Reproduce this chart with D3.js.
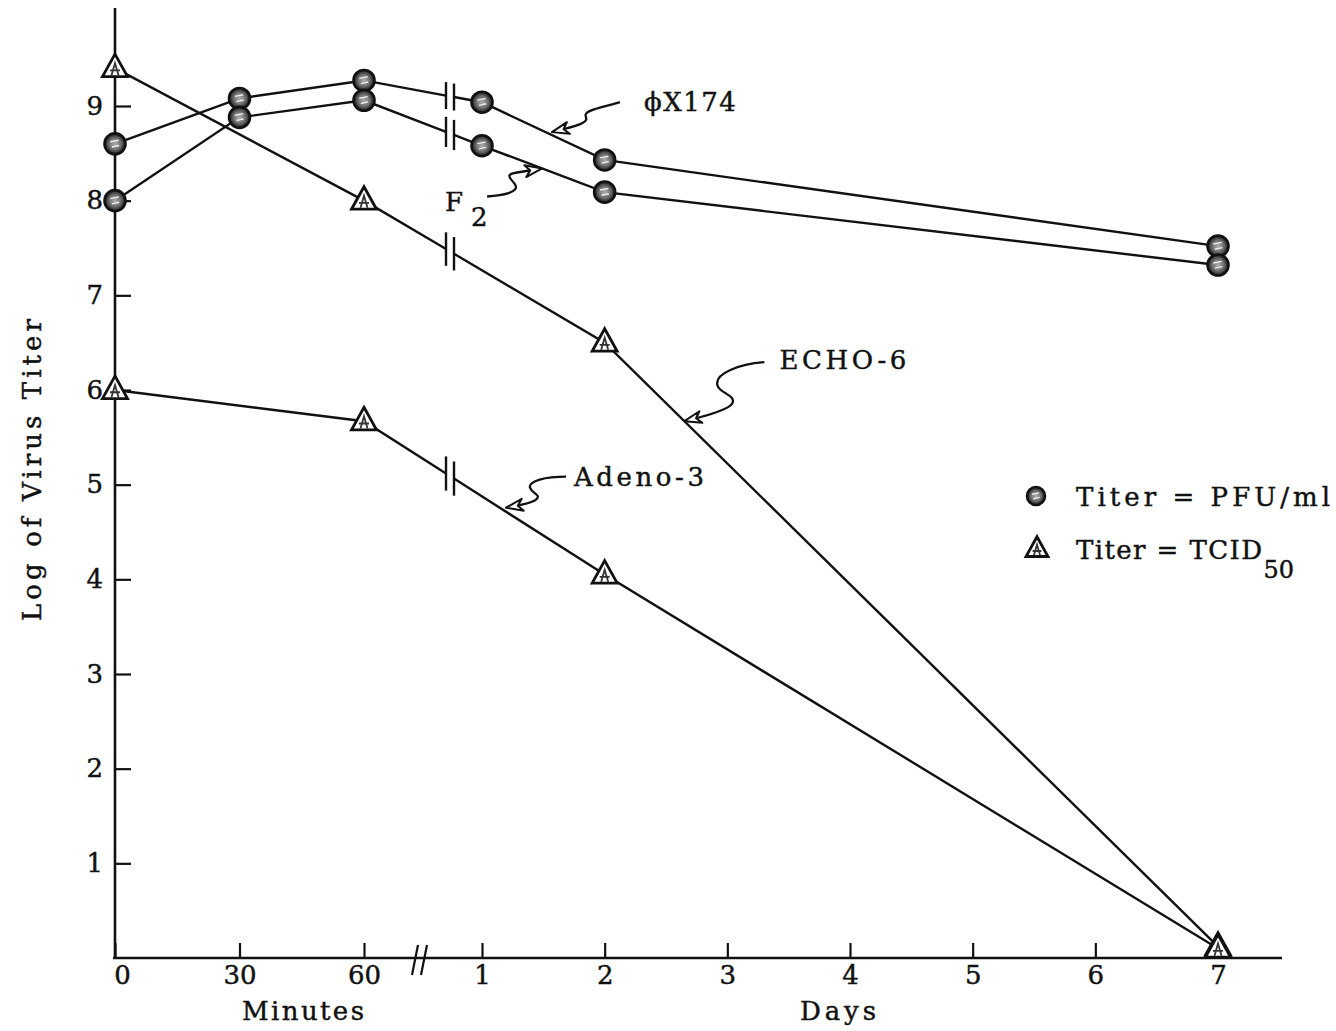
<!DOCTYPE html>
<html>
<head>
<meta charset="utf-8">
<script src="https://cdn.jsdelivr.net/npm/d3@7"></script>
<style>
  html, body { margin: 0; padding: 0; background: #fff; }
  svg { display: block; }
  text { font-family: "DejaVu Serif", serif; fill: #111; stroke: #111; stroke-width: 0.45px; }
</style>
</head>
<body>
<svg id="chart" width="1336" height="1031"></svg>
<script>
// Axis ticks: the first hour is read in minutes, the rest in days
const minuteTicks = [0, 30, 60];
const dayTicks = [1, 2, 3, 4, 5, 6, 7];
const titerTicks = [1, 2, 3, 4, 5, 6, 7, 8, 9];

// phiX174 (plaque assay, PFU/ml)
const phiMinutes = [0, 30, 60];
const phiMinuteTiters = [8.6, 9.08, 9.27];
const phiDays = [1, 2, 7];
const phiDayTiters = [9.04, 8.43, 7.52];

// F2 (plaque assay, PFU/ml)
const f2Minutes = [0, 30, 60];
const f2MinuteTiters = [8.0, 8.88, 9.06];
const f2Days = [1, 2, 7];
const f2DayTiters = [8.58, 8.09, 7.32];

// ECHO-6 (TCID50)
const echoMinutes = [0, 60];
const echoMinuteTiters = [9.4, 8.0];
const echoDays = [2, 7];
const echoDayTiters = [6.5, 0.12];

// Adeno-3 (TCID50)
const adenoMinutes = [0, 60];
const adenoMinuteTiters = [6.0, 5.67];
const adenoDays = [2, 7];
const adenoDayTiters = [4.05, 0.1];

const series = [
  { name: "phi", assay: "pfu", minutes: phiMinutes, mTiters: phiMinuteTiters, days: phiDays, dTiters: phiDayTiters },
  { name: "f2", assay: "pfu", minutes: f2Minutes, mTiters: f2MinuteTiters, days: f2Days, dTiters: f2DayTiters },
  { name: "echo", assay: "tcid", minutes: echoMinutes, mTiters: echoMinuteTiters, days: echoDays, dTiters: echoDayTiters },
  { name: "adeno", assay: "tcid", minutes: adenoMinutes, mTiters: adenoMinuteTiters, days: adenoDays, dTiters: adenoDayTiters }
];

const svg = d3.select("#chart");

const axisX = 115;
const y = d3.scaleLinear().domain([0, 9]).range([958, 106]);
const xMin = d3.scaleLinear().domain([0, 60]).range([axisX, 364]);
const xDay = d3.scaleLinear().domain([1, 7]).range([482, 1218]);
const baseY = y(0);

// defs: mottled fill for the plaque-assay circles
const defs = svg.append("defs");
const grad = defs.append("radialGradient").attr("id", "pfuFill");
grad.append("stop").attr("offset", "0%").attr("stop-color", "#b0b0b0");
grad.append("stop").attr("offset", "55%").attr("stop-color", "#707070");
grad.append("stop").attr("offset", "100%").attr("stop-color", "#1a1a1a");

// ---- axes ----
const axes = svg.append("g");
axes.append("line")
  .attr("x1", axisX).attr("x2", axisX)
  .attr("y1", 8).attr("y2", baseY)
  .attr("stroke", "#111").attr("stroke-width", 2.6);
axes.append("line")
  .attr("x1", axisX - 2).attr("x2", 1282)
  .attr("y1", baseY).attr("y2", baseY)
  .attr("stroke", "#111").attr("stroke-width", 2.6);

const yAxis = axes.append("g")
  .attr("transform", `translate(${axisX},0)`)
  .call(d3.axisLeft(y).tickValues(titerTicks).tickSizeInner(-16).tickSizeOuter(0)
        .tickPadding(12).tickFormat(d3.format("d")));

const xMinAxis = axes.append("g")
  .attr("transform", `translate(0,${baseY})`)
  .call(d3.axisBottom(xMin).tickValues(minuteTicks).tickSizeInner(-15).tickSizeOuter(0)
        .tickPadding(8).tickFormat(d3.format("d")));

const xDayAxis = axes.append("g")
  .attr("transform", `translate(0,${baseY})`)
  .call(d3.axisBottom(xDay).tickValues(dayTicks).tickSizeInner(-15).tickSizeOuter(0)
        .tickPadding(8).tickFormat(d3.format("d")));

[yAxis, xMinAxis, xDayAxis].forEach(g => {
  g.select(".domain").remove();
  g.selectAll(".tick line").attr("stroke", "#111").attr("stroke-width", 2.2);
  g.selectAll(".tick text")
    .attr("font-family", "DejaVu Serif").attr("font-size", 26).attr("fill", "#111");
});
xMinAxis.selectAll(".tick text").attr("dx", d => d === 0 ? 7 : 0);

// axis break on the time axis
const breakAxisX = (xMin(60) + xDay(1)) / 2 - 3;
[-5, 4].forEach(dx => {
  axes.append("line")
    .attr("x1", breakAxisX + dx - 3).attr("y1", baseY + 17)
    .attr("x2", breakAxisX + dx + 3).attr("y2", baseY - 13)
    .attr("stroke", "#111").attr("stroke-width", 2.2);
});

axes.append("text")
  .attr("x", 303).attr("y", 1020)
  .attr("text-anchor", "middle").attr("font-size", 26)
  .attr("textLength", 122).attr("lengthAdjust", "spacing")
  .text("Minutes");
axes.append("text")
  .attr("x", xDay(4) - 12).attr("y", 1020)
  .attr("text-anchor", "middle").attr("font-size", 26)
  .attr("textLength", 76).attr("lengthAdjust", "spacing")
  .text("Days");

axes.append("text")
  .attr("transform", "translate(41,470) rotate(-90)")
  .attr("text-anchor", "middle").attr("font-size", 26)
  .attr("textLength", 302).attr("lengthAdjust", "spacing")
  .text("Log of Virus Titer");

// ---- series lines with break marks between the minute and day sections ----
const lineGen = d3.line();
const lineX = xDay(1) - 36;   // where each curve is broken
const gapW = 8;
const plot = svg.append("g");

series.forEach(s => {
  const mPts = s.minutes.map((t, i) => [xMin(t), y(s.mTiters[i])]);
  const dPts = s.days.map((t, i) => [xDay(t), y(s.dTiters[i])]);
  const a = mPts[mPts.length - 1], b = dPts[0];
  const yAt = x => a[1] + (x - a[0]) / (b[0] - a[0]) * (b[1] - a[1]);
  const left = [lineX, yAt(lineX)];
  const right = [lineX + gapW, yAt(lineX + gapW)];
  s.mPts = mPts; s.dPts = dPts;

  plot.append("path").attr("d", lineGen([...mPts, left]))
    .attr("fill", "none").attr("stroke", "#111").attr("stroke-width", 2.4);
  plot.append("path").attr("d", lineGen([right, ...dPts]))
    .attr("fill", "none").attr("stroke", "#111").attr("stroke-width", 2.4);

  const slope = Math.abs((b[1] - a[1]) / (b[0] - a[0]));
  const h = 24 + slope * 16;
  [left, right].forEach(p => {
    plot.append("line")
      .attr("x1", p[0]).attr("x2", p[0])
      .attr("y1", p[1] - h / 2).attr("y2", p[1] + h / 2)
      .attr("stroke", "#111").attr("stroke-width", 2.4);
  });
});

// ---- markers ----
function drawCircle(g, cx, cy, r) {
  g.append("circle").attr("cx", cx).attr("cy", cy).attr("r", r)
    .attr("fill", "url(#pfuFill)").attr("stroke", "#111").attr("stroke-width", 2.6);
  g.append("path")
    .attr("d", `M${cx - r * 0.45},${cy - r * 0.2} L${cx + r * 0.35},${cy - r * 0.35} M${cx - r * 0.3},${cy + r * 0.3} L${cx + r * 0.4},${cy + r * 0.15}`)
    .attr("stroke", "#eee").attr("stroke-width", 1.4).attr("fill", "none");
}
function drawTriangle(g, cx, cy, s) {
  const h = s * 0.9;
  g.append("path")
    .attr("d", `M${cx},${cy - h * 0.62} L${cx + s / 2},${cy + h * 0.38} L${cx - s / 2},${cy + h * 0.38} Z`)
    .attr("fill", "#fff").attr("stroke", "#111").attr("stroke-width", 2.8).attr("stroke-linejoin", "miter");
  g.append("path")
    .attr("d", `M${cx - s * 0.14},${cy + h * 0.32} L${cx},${cy - h * 0.22} L${cx + s * 0.14},${cy + h * 0.32} M${cx - s * 0.2},${cy + h * 0.1} L${cx + s * 0.2},${cy + h * 0.1}`)
    .attr("fill", "none").attr("stroke", "#333").attr("stroke-width", 1.8);
}

const markers = svg.append("g");
series.forEach(s => {
  [...s.mPts, ...s.dPts].forEach(p => {
    if (s.assay === "pfu") drawCircle(markers, p[0], p[1], 10.5);
    else drawTriangle(markers, p[0], p[1], 25);
  });
});

// ---- curve labels with wavy leader arrows ----
// tip: a point a fraction of the way along one segment of a series
function along(pts, i, f) {
  const a = pts[i], b = pts[i + 1];
  return [a[0] + (b[0] - a[0]) * f, a[1] + (b[1] - a[1]) * f];
}
const bySeries = Object.fromEntries(series.map(s => [s.name, s]));
const notes = [
  { tip: along(bySeries.phi.dPts, 0, 0.57), dy: -3,
    path: "M68,-30 C52,-25 30,-22 34,-15 C37,-9 24,-6 0,0",
    label: [{ t: "ϕX174", dx: 92, dy: -21, len: 92 }] },
  { tip: along(bySeries.f2.dPts, 0, 0.49), dy: 0,
    path: "M-55,28 C-40,27 -22,24 -27,16 C-32,9 -38,6 -25,4 L0,0",
    label: [{ t: "F", dx: -97, dy: 43, len: 0 }, { t: "2", dx: -71, dy: 58, len: 0 }] },
  { tip: along(bySeries.echo.dPts, 0, 0.13), dy: 0,
    path: "M80,-59 C55,-57 30,-48 33,-36 C35,-28 52,-26 48,-18 C45,-12 25,-6 0,0",
    label: [{ t: "ECHO-6", dx: 95, dy: -52, len: 127 }] },
  { tip: along([bySeries.adeno.mPts[1], bySeries.adeno.dPts[0]], 0, 0.59), dy: -4,
    path: "M60,-31 C40,-31 22,-27 24,-20 C26,-14 36,-13 30,-8 C25,-4 12,-2 0,0",
    label: [{ t: "Adeno-3", dx: 68, dy: -22, len: 130 }] }
];

const ann = svg.append("g");
notes.forEach(n => {
  const tx = n.tip[0], ty = n.tip[1] + n.dy;
  const g = ann.append("g").attr("transform", `translate(${tx},${ty})`);
  g.append("path").attr("d", n.path)
    .attr("fill", "none").attr("stroke", "#111").attr("stroke-width", 2.3);
  // open arrowhead along the final stretch of the leader
  const node = g.select("path").node();
  const L = node.getTotalLength();
  const back = node.getPointAtLength(L - 14);
  const ang = Math.atan2(-back.y, -back.x);
  g.append("path")
    .attr("d", "M0,0 L-17,-6 L-12,0 L-17,6 Z")
    .attr("transform", `rotate(${ang * 180 / Math.PI})`)
    .attr("fill", "#fff").attr("stroke", "#111").attr("stroke-width", 2).attr("stroke-linejoin", "round");
  n.label.forEach(l => {
    const t = ann.append("text")
      .attr("x", tx + l.dx).attr("y", ty + l.dy)
      .attr("font-size", 26)
      .text(l.t);
    if (l.len) t.attr("textLength", l.len).attr("lengthAdjust", "spacing");
  });
});

// ---- legend ----
const legend = svg.append("g");
drawCircle(legend, 1036, 496, 9);
drawTriangle(legend, 1037, 549, 22);
legend.append("text").attr("x", 1076).attr("y", 506).attr("font-size", 26)
  .attr("textLength", 254).attr("lengthAdjust", "spacing")
  .text("Titer = PFU/ml");
const tcid = legend.append("text").attr("x", 1076).attr("y", 559).attr("font-size", 26);
tcid.append("tspan").attr("textLength", 186).attr("lengthAdjust", "spacing").text("Titer = TCID");
tcid.append("tspan").attr("dy", 19).attr("font-size", 24).text("50");
</script>
</body>
</html>
